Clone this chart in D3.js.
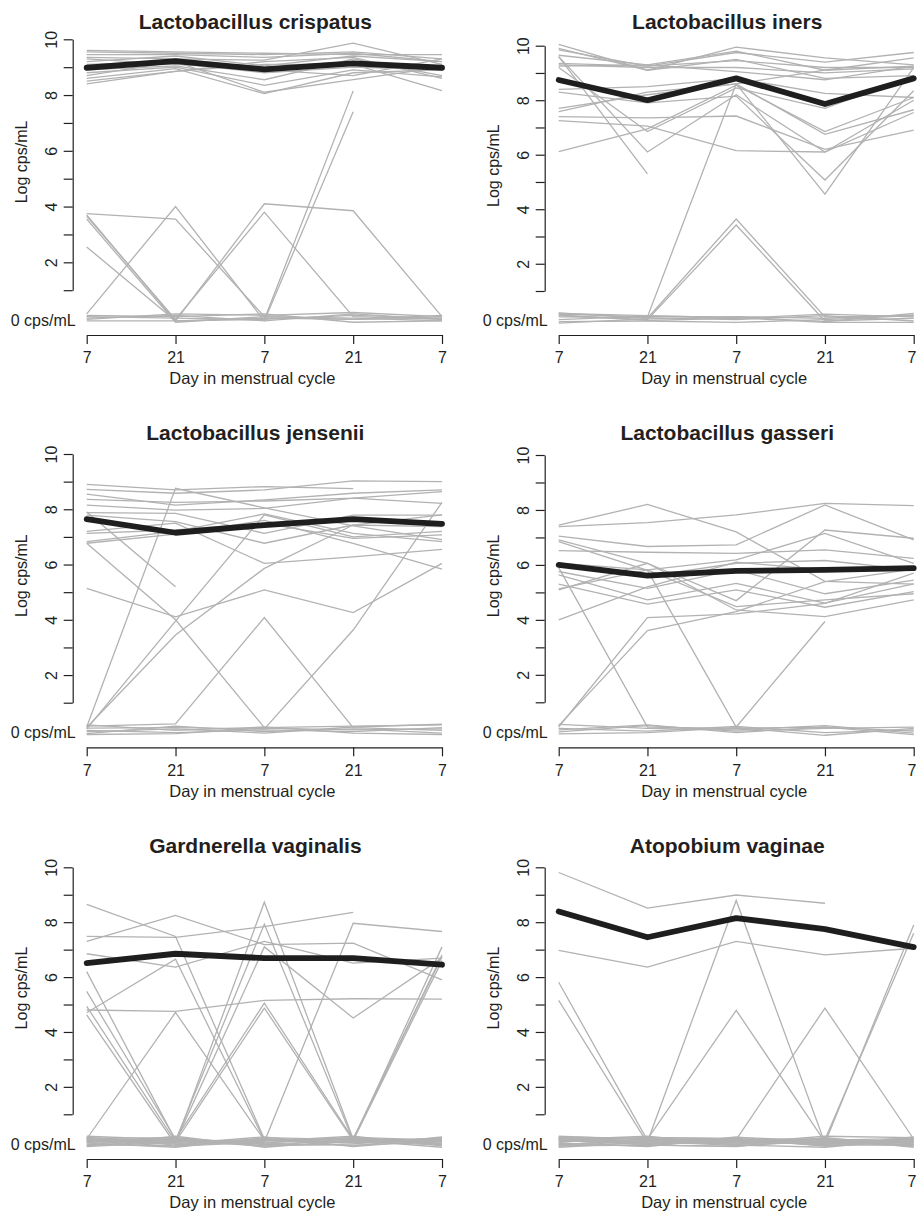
<!DOCTYPE html>
<html>
<head>
<meta charset="utf-8">
<script src="https://cdn.jsdelivr.net/npm/d3@7"></script>
<style>
  body { margin: 0; background: #fff; }
  svg text { font-family: "Liberation Sans", Arial, Helvetica, sans-serif; fill: #231f20; }
</style>
</head>
<body>
<svg id="chart" width="917" height="1211"></svg>
<script>
// tick labels
var days = ["7", "21", "7", "21", "7"];
var yTicks = [1, 2, 3, 4, 5, 6, 7, 8, 9, 10];
var yLabelled = [2, 4, 6, 8, 10];
var titles = ["Lactobacillus crispatus", "Lactobacillus iners", "Lactobacillus jensenii",
              "Lactobacillus gasseri", "Gardnerella vaginalis", "Atopobium vaginae"];

// log cps/mL per woman (values near 0 are the "0 cps/mL" group), null = missing
var crispatusSubjects = [
  [9.6, 9.55, 9.5, 9.45, 9.45],
  [9.55, 9.5, 9.45, 9.55, 9.3],
  [9.45, 9.45, 9.35, 9.5, 9.2],
  [9.35, 9.3, 9.25, 9.86, 9.1],
  [9.2, 9.4, 9.05, 9.4, 9.2],
  [9.1, 9.2, 9.0, 9.2, 9.05],
  [9.0, 9.15, 8.8, 9.0, 8.9],
  [8.9, 9.05, 8.55, 9.3, 8.7],
  [8.8, 9.0, 8.35, 8.9, 8.65],
  [8.7, 9.2, 8.1, 8.55, 9.0],
  [8.6, 8.95, 8.05, 8.8, 8.9],
  [8.5, 8.85, 9.1, 9.1, 8.16],
  [8.4, 8.85, 9.2, 9.35, 8.6],
  [9.3, 9.1, 8.9, 8.7, 9.3],
  [3.75, 3.55, 0.05, -0.05, 0.0],
  [3.7, -0.1, 4.1, 3.85, 0.05],
  [3.65, -0.05, 3.8, 0.05, -0.05],
  [3.55, -0.15, 0.05, 0.0, -0.1],
  [2.55, -0.1, -0.05, 0.1, 0.0],
  [0.15, 4.0, -0.1, 0.15, -0.05],
  [0.05, 0.0, -0.05, 8.15, null],
  [0.0, 0.1, -0.1, 7.4, null],
  [-0.05, 0.15, 0.1, 0.2, 0.05],
  [0.1, 0.05, 0.15, -0.15, -0.1],
  [-0.1, -0.1, 0.0, -0.05, 0.1]
];
var crispatusMean = [8.98, 9.22, 8.92, 9.14, 8.98];

var inersSubjects = [
  [10.05, 9.1, 9.95, 9.55, 9.3],
  [9.85, 9.25, 9.75, 9.4, 9.75],
  [9.65, 9.3, 9.8, 9.1, 9.55],
  [9.35, 9.25, 9.45, 9.2, 9.2],
  [9.3, 9.2, 9.2, 9.0, 9.15],
  [9.25, 9.3, 9.05, 8.75, 9.25],
  [9.6, 6.1, 8.2, 6.1, 8.0],
  [9.6, 5.3, null, null, null],
  [9.2, 6.85, 8.45, 7.7, 8.9],
  [9.9, 9.1, 9.5, 8.8, 8.9],
  [8.4, 8.5, 8.8, 8.25, 8.1],
  [8.3, 7.9, 8.15, 5.07, 8.35],
  [7.58, 8.3, 8.6, 4.55, 9.2],
  [7.7, 8.2, 8.6, 6.75, 7.65],
  [7.4, 7.35, 7.42, 6.2, 6.9],
  [7.25, 7.05, 6.15, 6.1, 7.55],
  [6.11, 6.95, 8.55, 6.85, 8.1],
  [0.15, 0.05, 8.6, 9.1, 9.25],
  [0.2, 0.0, 3.64, 0.05, 0.1],
  [0.1, -0.05, 3.42, -0.1, 0.0],
  [0.12, -0.08, 0.0, 0.15, 0.05],
  [0.05, 0.02, -0.05, 0.1, -0.1],
  [-0.05, 0.08, 0.04, -0.12, 0.18],
  [-0.12, -0.1, -0.15, -0.05, 0.1],
  [0.18, 0.1, 0.02, -0.15, -0.15],
  [-0.18, -0.02, 0.06, 0.0, 0.12]
];
var inersMean = [8.74, 8.0, 8.8, 7.86, 8.8];

var jenseniiSubjects = [
  [8.9, 8.7, 8.82, 8.75, null],
  [8.72, 8.58, 8.7, 9.03, 9.0],
  [8.55, 8.15, 8.34, 8.58, 8.7],
  [8.36, 8.25, 8.3, 8.4, 8.64],
  [8.15, 7.97, 8.03, 8.4, 8.21],
  [7.88, 7.85, 7.13, 7.79, 7.79],
  [7.79, 7.55, 6.77, 7.43, 7.37],
  [7.13, 7.25, 7.49, 6.95, 7.07],
  [6.83, 7.2, 7.83, 7.13, 6.83],
  [7.2, 7.5, 6.04, 6.28, 6.55],
  [6.77, 7.1, 7.6, 6.77, 5.83],
  [6.77, 4.0, 0.1, 0.15, 0.2],
  [7.9, 5.2, null, null, null],
  [5.14, 4.11, 5.08, 4.26, 6.04],
  [0.1, 3.45, 5.86, 7.43, 7.8],
  [0.05, 3.95, 7.8, 7.0, 7.2],
  [0.12, 8.76, 8.05, 7.4, 6.9],
  [0.15, 0.23, 4.08, 0.1, 0.0],
  [0.08, 0.1, 0.05, 3.63, 8.25],
  [-0.05, 0.05, -0.1, 0.12, 0.22],
  [0.0, -0.08, 0.02, -0.05, 0.1],
  [-0.12, 0.15, -0.05, 0.05, -0.1],
  [0.2, 0.0, 0.12, -0.1, -0.15],
  [-0.15, -0.12, 0.08, 0.02, 0.05]
];
var jenseniiMean = [7.64, 7.15, 7.43, 7.64, 7.47];

var gasseriSubjects = [
  [7.45, 8.2, 7.2, 5.4, 5.3],
  [7.39, 7.54, 7.82, 8.24, 8.16],
  [7.05, 6.67, 6.73, 8.18, 6.91],
  [6.91, 6.06, 4.7, 7.27, 6.97],
  [6.52, 6.46, 6.42, 6.55, 6.24],
  [6.06, 5.82, 6.18, 7.15, 6.06],
  [5.94, 5.58, 6.06, 6.16, 5.82],
  [5.76, 5.15, 5.82, 4.95, 5.45],
  [5.64, 4.73, 5.33, 4.61, 5.31],
  [5.3, 4.57, 5.09, 4.46, 5.03],
  [5.13, 5.82, 4.48, 4.73, 4.95],
  [5.09, 6.06, 4.36, 4.12, 4.73],
  [4.0, 5.2, 6.1, 5.82, 5.8],
  [0.1, 4.08, 4.22, 4.6, 5.7],
  [0.15, 3.61, 4.3, 5.39, 5.85],
  [5.9, 0.1, 0.05, 0.1, -0.05],
  [6.85, 5.8, 0.1, 3.94, null],
  [0.05, -0.05, 0.12, -0.1, 0.0],
  [-0.08, 0.15, -0.05, 0.05, 0.1],
  [0.2, 0.05, 0.0, 0.15, -0.12],
  [-0.15, -0.1, 0.08, -0.2, 0.05],
  [0.0, 0.18, -0.1, 0.1, -0.18]
];
var gasseriMean = [6.0, 5.61, 5.78, 5.82, 5.88];

var gardnerellaSubjects = [
  [8.65, 7.48, 0.1, 0.05, 0.1],
  [7.3, 8.25, 7.18, 7.24, 5.9],
  [7.48, 7.45, 7.84, 8.36, null],
  [6.85, 6.36, 7.3, 6.51, 6.69],
  [4.7, 6.65, 0.05, 0.1, 0.0],
  [0.1, 4.71, 0.05, 0.1, 0.05],
  [4.8, 4.75, 5.15, 5.21, 5.2],
  [0.05, -0.05, 8.73, 0.1, 6.8],
  [6.2, 0.05, 7.93, 0.05, 7.1],
  [5.48, 0.1, 5.05, 0.1, 6.75],
  [4.93, 0.0, 4.87, 0.05, 6.6],
  [0.1, 0.05, 0.0, 7.96, 7.66],
  [0.15, 0.0, 7.1, 4.51, 6.7],
  [4.62, -0.1, 0.1, -0.05, 0.05],
  [0.0, 0.12, -0.05, 0.15, -0.1],
  [-0.1, -0.15, 0.05, 0.0, 0.12],
  [0.2, 0.08, -0.1, -0.12, 0.0],
  [-0.05, -0.2, 0.15, 0.08, -0.05],
  [0.12, 0.15, -0.15, -0.08, 0.15],
  [-0.18, 0.0, 0.02, 0.2, -0.15],
  [0.05, -0.08, 0.18, -0.18, 0.08],
  [-0.12, 0.2, -0.2, 0.05, -0.2],
  [0.16, -0.12, 0.06, -0.02, 0.02],
  [-0.02, 0.04, -0.16, 0.12, -0.08],
  [0.08, -0.02, 0.1, -0.15, 0.18],
  [-0.15, 0.1, -0.08, 0.02, -0.12],
  [0.02, -0.16, -0.02, 0.16, 0.06]
];
var gardnerellaMean = [6.51, 6.85, 6.69, 6.69, 6.45];

var atopobiumSubjects = [
  [9.81, 8.51, 8.99, 8.69, null],
  [6.97, 6.36, 7.3, 6.81, 7.05],
  [5.81, 0.05, -0.1, 0.1, 0.0],
  [5.15, -0.05, 0.05, -0.1, 0.12],
  [0.1, 0.0, 8.79, -0.05, 0.05],
  [0.15, 0.1, 4.79, 0.0, -0.1],
  [0.05, -0.1, 0.08, 4.87, 0.1],
  [-0.1, 0.05, 0.0, -0.05, 7.9],
  [0.12, -0.05, -0.08, 0.08, 7.6],
  [0.0, 0.15, 0.12, -0.15, 0.18],
  [-0.15, -0.12, -0.18, 0.15, -0.15],
  [0.2, 0.08, 0.02, -0.08, 0.05],
  [-0.05, -0.18, 0.15, 0.05, -0.05],
  [0.08, 0.2, -0.12, -0.2, 0.1],
  [-0.2, -0.02, 0.05, 0.12, -0.2],
  [0.18, 0.12, -0.05, 0.2, 0.15],
  [-0.08, -0.15, 0.18, -0.12, -0.12],
  [0.04, 0.02, -0.14, 0.02, -0.02],
  [-0.12, 0.1, 0.08, -0.04, 0.08],
  [0.14, -0.08, -0.02, 0.1, -0.08],
  [-0.02, 0.16, 0.1, -0.16, 0.02],
  [0.1, -0.12, -0.16, 0.06, 0.12],
  [-0.16, 0.04, 0.04, -0.02, -0.16]
];
var atopobiumMean = [8.39, 7.45, 8.15, 7.75, 7.09];

var panels = [
  { title: titles[0], subjects: crispatusSubjects, mean: crispatusMean },
  { title: titles[1], subjects: inersSubjects, mean: inersMean },
  { title: titles[2], subjects: jenseniiSubjects, mean: jenseniiMean },
  { title: titles[3], subjects: gasseriSubjects, mean: gasseriMean },
  { title: titles[4], subjects: gardnerellaSubjects, mean: gardnerellaMean },
  { title: titles[5], subjects: atopobiumSubjects, mean: atopobiumMean }
];

// pixel frame of each panel (y-axis x, first/last day tick, y of value 10 and 1, x-axis y, title y)
var frames = [
  { axisX: 72.7,  x0: 86.7,  x4: 442,   y10: 39.3,  y1: 290.2,  axisY: 335,   titleY: 22 },
  { axisX: 544.7, x0: 558.7, x4: 913.7, y10: 45.7,  y1: 291,    axisY: 335,   titleY: 22 },
  { axisX: 72.7,  x0: 86.7,  x4: 442,   y10: 454,   y1: 702.7,  axisY: 747.3, titleY: 433 },
  { axisX: 544.7, x0: 558.7, x4: 913.7, y10: 455,   y1: 702.3,  axisY: 747.3, titleY: 433 },
  { axisX: 72.7,  x0: 86.7,  x4: 442,   y10: 867.3, y1: 1114.3, axisY: 1159,  titleY: 846 },
  { axisX: 544.7, x0: 558.7, x4: 913.7, y10: 867.3, y1: 1114.3, axisY: 1159,  titleY: 846 }
];

var svg = d3.select("#chart");

panels.forEach(function(p, k) {
  drawPanel(svg, p, frames[k]);
});

function drawPanel(svg, p, f) {
  var g = svg.append("g");

  var x = d3.scalePoint()
      .domain(d3.range(days.length))
      .range([f.x0, f.x4]);

  var y = d3.scaleLinear()
      .domain([1, 10])
      .range([f.y1, f.y10]);

  var line = d3.line()
      .defined(d => d != null)
      .x((d, i) => x(i))
      .y(d => y(d));

  // individual women
  g.append("g")
    .selectAll("path")
    .data(p.subjects)
    .enter().append("path")
      .attr("d", line)
      .attr("fill", "none")
      .attr("stroke", "#b2b2b2")
      .attr("stroke-width", 1.3);

  // mean
  g.append("path")
    .datum(p.mean)
    .attr("d", line)
    .attr("fill", "none")
    .attr("stroke", "#1e1e1e")
    .attr("stroke-width", 5.8)
    .attr("stroke-linecap", "round")
    .attr("stroke-linejoin", "round");

  // y axis, ticks 1..10, labels on even values, rotated like R
  var yAxis = g.append("g")
      .attr("transform", "translate(" + f.axisX + ",0)")
      .call(d3.axisLeft(y)
        .tickValues(yTicks)
        .tickSize(9)
        .tickSizeOuter(0)
        .tickFormat(d => yLabelled.indexOf(d) >= 0 ? d : ""));
  yAxis.selectAll("text")
      .attr("x", null)
      .attr("dy", null)
      .attr("text-anchor", "middle")
      .attr("transform", "translate(-15.3,0) rotate(-90)")
      .style("font-size", "16px");

  var xAxis = g.append("g")
      .attr("transform", "translate(0," + f.axisY + ")")
      .call(d3.axisBottom(x)
        .tickSize(9)
        .tickSizeOuter(0)
        .tickPadding(8)
        .tickFormat(i => days[i]));
  xAxis.selectAll("text").style("font-size", "16px");
  // keep the last label of the right column inside the page
  if (f.x4 > 900) {
    xAxis.selectAll("text").filter((d, i) => i === days.length - 1)
        .attr("text-anchor", "end")
        .attr("x", 916 - f.x4);
  }

  g.selectAll(".domain, .tick line")
      .attr("stroke", "#231f20")
      .attr("stroke-width", 1.2);

  // zero group label
  g.append("text")
      .attr("x", f.axisX + 3)
      .attr("y", y(0) + 2.5)
      .attr("dy", "0.35em")
      .attr("text-anchor", "end")
      .style("font-size", "16px")
      .text("0 cps/mL");

  var mid = (f.x0 + f.x4) / 2;

  g.append("text")
      .attr("x", mid - 9)
      .attr("y", f.titleY)
      .attr("dy", "0.35em")
      .attr("text-anchor", "middle")
      .style("font-size", "21px")
      .style("font-weight", "bold")
      .text(p.title);

  g.append("text")
      .attr("x", mid - 12)
      .attr("y", f.axisY + 43.7)
      .attr("dy", "0.35em")
      .attr("text-anchor", "middle")
      .style("font-size", "16.5px")
      .text("Day in menstrual cycle");

  g.append("text")
      .attr("text-anchor", "middle")
      .attr("transform", "translate(" + (f.axisX - 45.3) + "," + y(5.6) + ") rotate(-90)")
      .style("font-size", "16px")
      .text("Log cps/mL");
}
</script>
</body>
</html>
